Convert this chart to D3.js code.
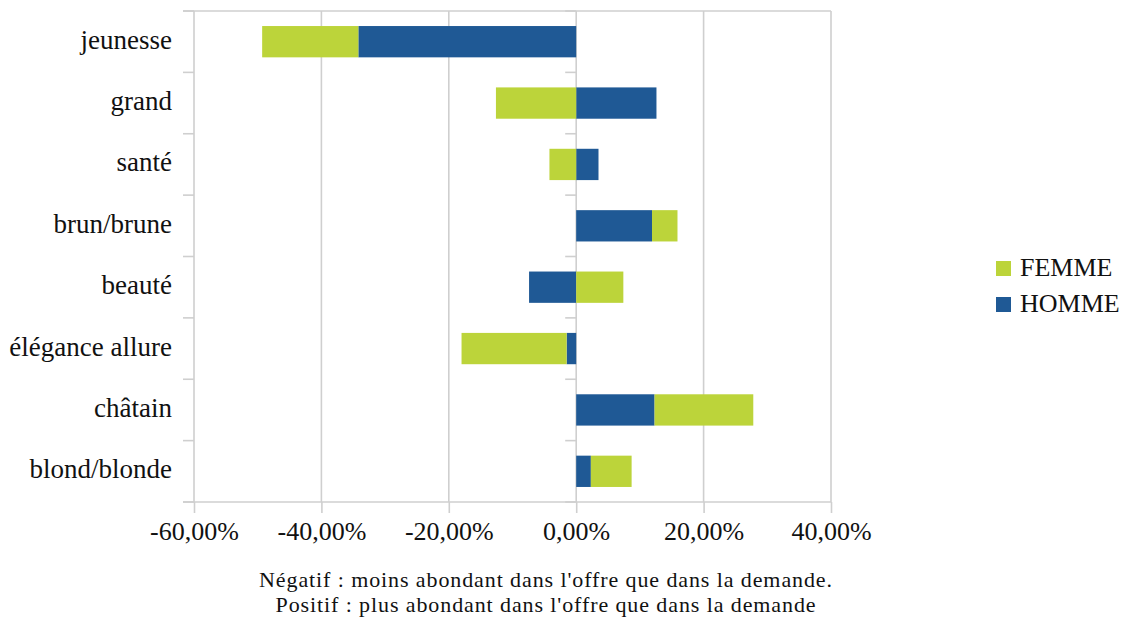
<!DOCTYPE html>
<html>
<head>
<meta charset="utf-8">
<script src="https://cdn.jsdelivr.net/npm/d3@7"></script>
<style>
  body { margin: 0; background: #fff; }
  text { font-family: "Liberation Serif", "DejaVu Serif", serif; fill: #111; }
</style>
</head>
<body>
<div id="chart"></div>
<script>
// categories, top to bottom
const categories = ["jeunesse", "grand", "santé", "brun/brune", "beauté", "élégance allure", "châtain", "blond/blonde"];
// values (percent)
const homme = [-34.2, 12.6, 3.5, 11.9, -7.4, -1.5, 12.3, 2.3];
const femme = [-15.1, -12.6, -4.2, 4.0, 7.4, -16.5, 15.5, 6.4];
const xTicks = [-60, -40, -20, 0, 20, 40];
const seriesKeys = ["HOMME", "FEMME"];
const legendKeys = ["FEMME", "HOMME"];
const notes = ["Négatif : moins abondant dans l'offre que dans la demande.",
               "Positif : plus abondant dans l'offre que dans la demande"];

const width = 1131, height = 621;
const margin = {top: 11, left: 194, right: 300, bottom: 119};

const svg = d3.select('#chart').append('svg')
  .attr('width', width)
  .attr('height', height);

const rows = categories.map((c, i) => ({cat: c, HOMME: homme[i], FEMME: femme[i]}));
const stack = d3.stack().keys(seriesKeys).offset(d3.stackOffsetDiverging);
const layers = stack(rows);

const x = d3.scaleLinear().domain([-60, 40]).range([margin.left, width - margin.right]);
const y = d3.scaleBand().domain(categories).range([margin.top, height - margin.bottom]).paddingInner(0.49).paddingOuter(0.245);
const yOuter = d3.scaleBand().domain(categories).range([margin.top, height - margin.bottom]);
const color = d3.scaleOrdinal().domain(seriesKeys).range(["#1f5995", "#bcd43a"]);

const gridColor = "#cfcfcf";

// vertical gridlines
svg.append('g').selectAll('line')
  .data(xTicks).enter()
  .append('line')
  .attr('x1', d => x(d)).attr('x2', d => x(d))
  .attr('y1', margin.top).attr('y2', height - margin.bottom)
  .attr('stroke', gridColor).attr('stroke-width', 1.6);

// top frame line
svg.append('line')
  .attr('x1', x(-60) - 11).attr('x2', x(40))
  .attr('y1', margin.top).attr('y2', margin.top)
  .attr('stroke', gridColor).attr('stroke-width', 1.6);

// category ticks at left frame and at zero
const tickYs = categories.map(c => yOuter(c)).concat([height - margin.bottom]);
[x(-60), x(0)].forEach(px => {
  svg.append('g').selectAll('line')
    .data(tickYs).enter()
    .append('line')
    .attr('x1', px - 11).attr('x2', px)
    .attr('y1', d => d).attr('y2', d => d)
    .attr('stroke', gridColor).attr('stroke-width', 1.6);
});

// bars
svg.append('g').selectAll('g')
  .data(layers).enter()
  .append('g')
  .attr('fill', d => color(d.key))
  .selectAll('rect')
  .data(d => d).enter()
  .append('rect')
  .attr('x', d => x(Math.min(d[0], d[1])))
  .attr('width', d => Math.abs(x(d[1]) - x(d[0])))
  .attr('y', d => y(d.data.cat))
  .attr('height', y.bandwidth());

// x axis
const xAxis = d3.axisBottom(x)
  .tickValues(xTicks)
  .tickSize(11)
  .tickFormat(d => d3.format('.2f')(d).replace('.', ',').replace('\u2212', '-') + '%');
const gx = svg.append('g')
  .attr('transform', `translate(0,${height - margin.bottom})`)
  .call(xAxis);
gx.select('.domain').attr('d', `M${x(-60) - 11},0H${x(40)}`).attr('stroke', gridColor).attr('stroke-width', 1.6);
gx.selectAll('.tick line').attr('stroke', gridColor).attr('stroke-width', 1.6);
gx.selectAll('.tick text')
  .attr('y', 38).attr('dy', 0)
  .style('font-size', '26px')
  .style('font-family', '"Liberation Serif", serif')
  .attr('fill', '#111');

// category labels
svg.append('g').selectAll('text')
  .data(categories).enter()
  .append('text')
  .attr('x', 172)
  .attr('y', d => yOuter(d) + yOuter.bandwidth() / 2 + 7)
  .attr('text-anchor', 'end')
  .style('font-size', '27px')
  .text(d => d);

// legend
const legend = svg.append('g').attr('transform', 'translate(996,261)');
legend.selectAll('rect')
  .data(legendKeys).enter()
  .append('rect')
  .attr('x', 0).attr('y', (d, i) => i * 36)
  .attr('width', 15).attr('height', 15)
  .attr('fill', d => color(d));
legend.selectAll('text')
  .data(legendKeys).enter()
  .append('text')
  .attr('x', 24).attr('y', (d, i) => i * 36 + 15)
  .style('font-size', '26px')
  .text(d => d);

// footnote
svg.append('g').selectAll('text')
  .data(notes).enter()
  .append('text')
  .attr('x', 546)
  .attr('y', (d, i) => 587 + i * 25)
  .attr('text-anchor', 'middle')
  .style('font-size', '22px')
  .style('letter-spacing', '0.9px')
  .text(d => d);
</script>
</body>
</html>
